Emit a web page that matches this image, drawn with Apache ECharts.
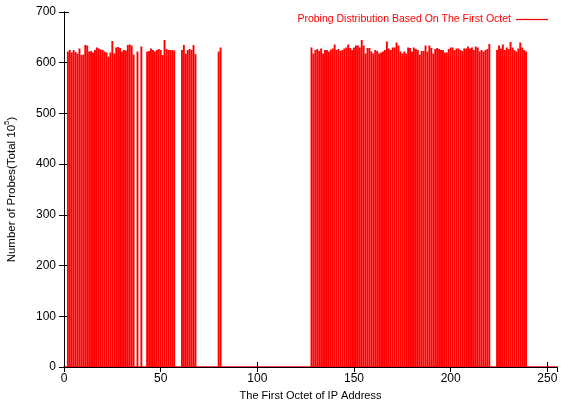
<!DOCTYPE html>
<html>
<head>
<meta charset="utf-8">
<script src="https://cdn.jsdelivr.net/npm/echarts@6/dist/echarts.min.js"></script>
<style>
html,body{margin:0;padding:0;background:#fff;}
#c{width:569px;height:404px;}
</style>
</head>
<body>
<div id="c"></div>
<script>
// First octets that received probes
const octets = [
  2,3,4,5,6,7,8,9,10,11,12,13,14,15,16,17,18,19,20,21,22,23,24,25,26,27,28,29,30,31,32,33,34,35,36,
  38,40,
  43,44,45,46,47,48,49,50,51,52,53,54,55,56,57,
  61,62,63,64,65,66,67,68,
  80,81,
  128,129,130,131,132,133,134,135,136,137,138,139,140,141,142,143,144,145,146,147,148,149,150,151,152,153,154,155,156,157,158,159,160,161,162,163,164,165,
  166,167,168,169,170,171,172,173,174,175,176,177,178,179,180,181,182,183,184,185,186,187,188,189,190,191,192,193,194,195,196,197,198,199,200,201,202,203,204,205,206,207,
  208,209,210,211,212,213,214,215,216,217,218,219,220,
  224,225,226,227,228,229,230,231,232,233,234,235,236,237,238,239
];
// Number of probes per first octet
const probes = [
  622,625,620,625,621,618,628,615,616,635,634,622,623,620,625,630,628,626,625,622,620,612,620,643,618,630,631,629,622,625,624,635,636,634,616,
  622,632,
  622,623,628,625,622,625,627,625,615,645,627,625,625,625,624,
  625,635,618,625,627,625,635,617,
  622,630,
  630,618,625,627,623,628,618,625,625,622,626,628,636,625,627,623,625,628,630,636,629,625,630,634,634,630,645,634,618,629,629,622,618,625,623,618,620,622,
  625,642,628,625,630,630,640,634,622,618,622,618,630,629,622,630,627,625,616,623,623,634,622,634,629,618,627,629,627,625,625,620,620,627,630,630,625,628,628,625,623,628,
  628,632,628,630,625,632,630,622,625,622,625,627,637,
  625,634,628,636,625,630,627,641,630,625,622,628,640,630,625,622
];
const xTicks = [0, 50, 100, 150, 200, 250];
const yTicks = [0, 100, 200, 300, 400, 500, 600, 700];
const seriesName = 'Probing Distribution Based On The First Octet';

const FONT = '"Liberation Sans", Arial, Helvetica, sans-serif';
const chart = echarts.init(document.getElementById('c'), null, {renderer: 'canvas'});
const data = octets.map((o, i) => [o, probes[i]]);

chart.setOption({
  animation: false,
  backgroundColor: '#fff',
  grid: {left: 64, right: 12, top: 12, bottom: 37, outerBoundsMode: 'none', containLabel: false},
  legend: {
    data: [seriesName],
    right: 16, top: 9,
    align: 'right',
    icon: 'rect',
    itemWidth: 32, itemHeight: 1.2,
    itemGap: 6,
    textStyle: {color: '#ff0000', fontFamily: FONT, fontSize: 10.5}
  },
  xAxis: [{
    type: 'value', min: 0, max: 255, interval: 50,
    name: 'The First Octet of IP Address', nameLocation: 'middle', nameGap: 23,
    nameTextStyle: {color: '#000', fontFamily: FONT, fontSize: 11},
    axisLine: {show: true, lineStyle: {color: '#ff0000', width: 1.6}},
    axisTick: {show: true, inside: true, length: 5, lineStyle: {color: '#000'}},
    axisLabel: {color: '#000', fontFamily: FONT, fontSize: 12, margin: 6, showMaxLabel: false},
    splitLine: {show: false}
  }, {
    type: 'value', min: 0, max: 255, interval: 50, position: 'top',
    axisLine: {show: true, lineStyle: {color: '#000', width: 1}},
    axisTick: {show: true, inside: true, length: 5, lineStyle: {color: '#000'}},
    axisLabel: {show: false},
    splitLine: {show: false}
  }],
  yAxis: [{
    type: 'value', min: 0, max: 700, interval: 100,
    name: 'Number of Probes(Total 10{sup|5})', nameLocation: 'middle', nameGap: 43, nameRotate: 90,
    nameTextStyle: {color: '#000', fontFamily: FONT, fontSize: 11.5,
      rich: {sup: {fontSize: 8, fontFamily: FONT, color: '#000', verticalAlign: 'top', lineHeight: 18}}},
    axisLine: {show: true, lineStyle: {color: '#000', width: 1}},
    axisTick: {show: true, inside: true, length: 5, lineStyle: {color: '#000'}},
    axisLabel: {color: '#000', fontFamily: FONT, fontSize: 12, margin: 8},
    splitLine: {show: false}
  }, {
    type: 'value', min: 0, max: 700, interval: 100, position: 'right',
    axisLine: {show: true, lineStyle: {color: '#000', width: 1}},
    axisTick: {show: true, inside: true, length: 5, lineStyle: {color: '#000'}},
    axisLabel: {show: false},
    splitLine: {show: false}
  }],
  series: [{
    name: seriesName,
    type: 'bar',
    xAxisIndex: 0, yAxisIndex: 0,
    barWidth: 1.9,
    itemStyle: {color: '#ff0000', borderColor: '#ff0000', borderWidth: 0},
    data: data
  }]
});
</script>
</body>
</html>
